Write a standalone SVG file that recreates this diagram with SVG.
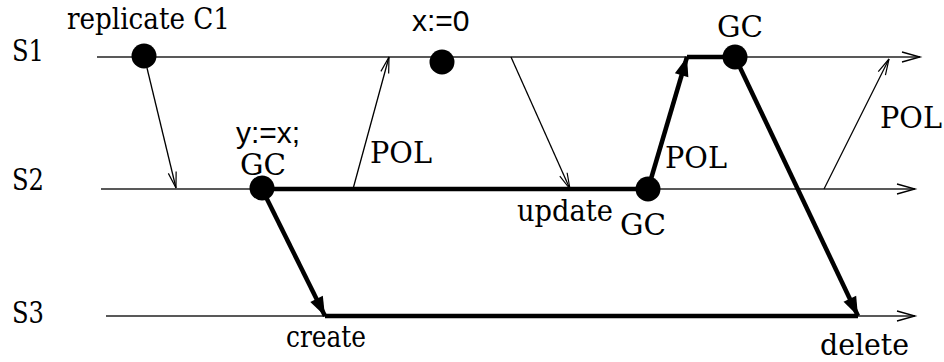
<svg xmlns="http://www.w3.org/2000/svg" width="944" height="362" viewBox="0 0 944 362">
<style>
  .timeline { stroke: #222; stroke-width: 1.4; fill: none; }
  .msg { stroke: #000; stroke-width: 1.3; fill: none; }
  .thick { stroke: #000; stroke-width: 4.5; fill: none; }
  .event { fill: #000; }
</style>
<defs>
  <marker id="open" markerUnits="userSpaceOnUse" markerWidth="22" markerHeight="12" refX="18" refY="5" orient="auto" overflow="visible">
    <path d="M0,0 L18,5 L0,10" fill="none" stroke="#000" stroke-width="1.3"/>
  </marker>
  <marker id="openSmall" markerUnits="userSpaceOnUse" markerWidth="18" markerHeight="10" refX="16" refY="4" orient="auto" overflow="visible">
    <path d="M0,0 L16,4 L0,8" fill="none" stroke="#000" stroke-width="1.2"/>
  </marker>
  <marker id="filled" markerUnits="userSpaceOnUse" markerWidth="22" markerHeight="16" refX="19" refY="7" orient="auto" overflow="visible">
    <path d="M0,0 L19,7 L0,14 z" fill="#000" stroke="none"/>
  </marker>
</defs>

<g font-family="DejaVu Serif, serif" font-size="30" fill="#000">
<g id="timelines">
  <g id="S1">
    <text x="12" y="61" textLength="32" lengthAdjust="spacingAndGlyphs">S1</text>
    <line class="timeline" x1="97" y1="57" x2="920" y2="57" marker-end="url(#open)"/>
  </g>
  <g id="S2">
    <text x="12" y="190" textLength="32" lengthAdjust="spacingAndGlyphs">S2</text>
    <line class="timeline" x1="101" y1="189" x2="915" y2="189" marker-end="url(#open)"/>
  </g>
  <g id="S3">
    <text x="12" y="323" textLength="32" lengthAdjust="spacingAndGlyphs">S3</text>
    <line class="timeline" x1="106" y1="316" x2="915" y2="316" marker-end="url(#open)"/>
  </g>
</g>

<g id="connectors">
  <line class="msg" x1="147" y1="68" x2="176" y2="188" marker-end="url(#openSmall)"/>
  <line class="msg" x1="353" y1="189" x2="389" y2="57" marker-end="url(#openSmall)"/>
  <line class="msg" x1="511" y1="57" x2="570" y2="189" marker-end="url(#openSmall)"/>
  <line class="msg" x1="824" y1="189" x2="889" y2="59" marker-end="url(#openSmall)"/>
  <line class="thick" x1="262" y1="189" x2="648" y2="189"/>
  <line class="thick" x1="262" y1="189" x2="325" y2="316" marker-end="url(#filled)"/>
  <line class="thick" x1="325" y1="316" x2="858" y2="316"/>
  <line class="thick" x1="648" y1="189" x2="687" y2="57" marker-end="url(#filled)"/>
  <line class="thick" x1="687" y1="57" x2="735" y2="57"/>
  <line class="thick" x1="735" y1="57" x2="858" y2="316" marker-end="url(#filled)"/>
  <text x="370" y="163" textLength="62" lengthAdjust="spacingAndGlyphs">POL</text>
  <text x="665" y="168" textLength="62" lengthAdjust="spacingAndGlyphs">POL</text>
  <text x="880" y="128" textLength="62" lengthAdjust="spacingAndGlyphs">POL</text>
</g>

<g id="replicate">
  <circle class="event" cx="144" cy="56" r="12.5"/>
  <text x="67" y="29" textLength="163" lengthAdjust="spacingAndGlyphs">replicate C1</text>
</g>
<g id="gc-s2-left">
  <circle class="event" cx="262" cy="188" r="12.5"/>
  <text x="236" y="143" font-family="Liberation Sans, Arial, sans-serif" font-size="30">y:=x;</text>
  <text x="240" y="175" textLength="46" lengthAdjust="spacingAndGlyphs">GC</text>
</g>
<g id="assign-x">
  <circle class="event" cx="442" cy="62" r="12.5"/>
  <text x="412" y="31" font-family="Liberation Sans, Arial, sans-serif" font-size="30">x:=0</text>
</g>
<g id="update">
  <text x="517" y="221" textLength="96" lengthAdjust="spacingAndGlyphs">update</text>
</g>
<g id="gc-s2-right">
  <circle class="event" cx="648" cy="189" r="12.5"/>
  <text x="620" y="235" textLength="46" lengthAdjust="spacingAndGlyphs">GC</text>
</g>
<g id="gc-s1">
  <circle class="event" cx="735" cy="57" r="12.5"/>
  <text x="717" y="37" textLength="46" lengthAdjust="spacingAndGlyphs">GC</text>
</g>
<g id="create">
  <text x="286" y="347" textLength="80" lengthAdjust="spacingAndGlyphs">create</text>
</g>
<g id="delete">
  <text x="820" y="355" textLength="89" lengthAdjust="spacingAndGlyphs">delete</text>
</g>
</g>
</svg>
